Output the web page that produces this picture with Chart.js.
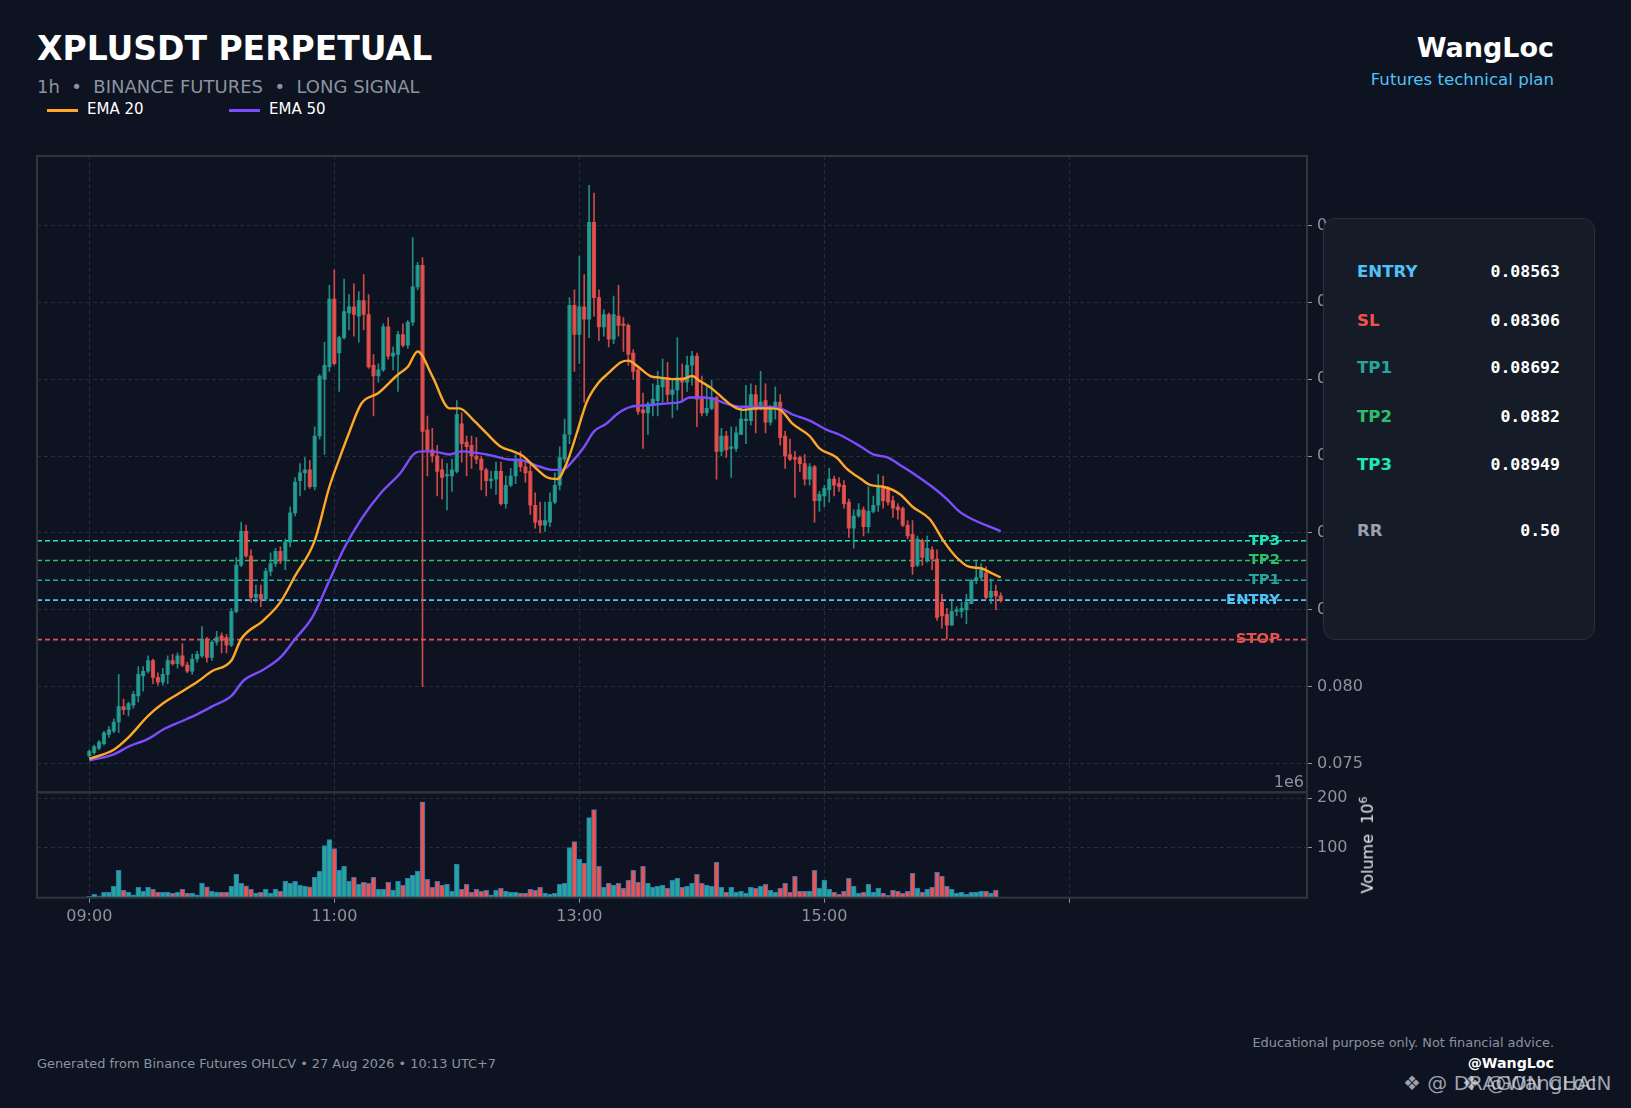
<!DOCTYPE html>
<html lang="en">
<head>
<meta charset="utf-8">
<title>XPLUSDT PERPETUAL - futures plan</title>
<script src="https://cdn.jsdelivr.net/npm/chart.js@4.4.1/dist/chart.umd.min.js"></script>
<style>
  html, body { margin: 0; padding: 0; }
  body {
    width: 1631px; height: 1108px; overflow: hidden; position: relative;
    background: #0d1320; font-family: 'DejaVu Sans', sans-serif;
  }
  .txt { position: absolute; line-height: 1; white-space: pre; }
  canvas { position: absolute; left: 0; }
  .legline { position: absolute; height: 3px; width: 31px; }
  #plan {
    position: absolute; left: 1323px; top: 218px; width: 272px; height: 422px;
    box-sizing: border-box; background: #151b27; border: 1px solid #283041;
    border-radius: 12px; z-index: 5;
  }
  #plan .lab { position: absolute; left: 33px; font-weight: bold; font-size: 16.6px; line-height: 1; }
  #plan .val {
    position: absolute; right: 34px; font-family: 'DejaVu Sans Mono', monospace;
    font-weight: bold; font-size: 16.5px; line-height: 1; color: #ffffff;
  }
  .mark { position: absolute; font-size: 20px; line-height: 1; color: rgba(215, 219, 225, 0.72); white-space: pre; z-index: 6; }
</style>
</head>
<body>

<div class="txt" style="left:37px;top:32px;font-size:33px;font-weight:bold;color:#ffffff">XPLUSDT PERPETUAL</div>
<div class="txt" style="left:37px;top:78px;font-size:18px;color:#8b93a1">1h  •  BINANCE FUTURES  •  LONG SIGNAL</div>
<div class="legline" style="left:47px;top:109px;background:#ffa726"></div>
<div class="txt" style="left:87px;top:102px;font-size:15px;color:#ffffff">EMA 20</div>
<div class="legline" style="left:229px;top:109px;background:#7c4dff"></div>
<div class="txt" style="left:269px;top:102px;font-size:15px;color:#ffffff">EMA 50</div>

<div class="txt" style="right:77px;top:34px;font-size:27px;font-weight:bold;color:#ffffff">WangLoc</div>
<div class="txt" style="right:77px;top:72px;font-size:16.6px;color:#4fc3f7">Futures technical plan</div>

<canvas id="priceChart" width="1631" height="676" style="top:136px"></canvas>
<canvas id="volumeChart" width="1631" height="176" style="top:772px"></canvas>

<div class="txt" style="right:327px;top:774px;font-size:16px;color:#8c929e">1e6</div>
<div class="txt" style="left:1367px;top:845px;font-size:16px;color:#e8eaee;transform:translate(-50%,-50%) rotate(-90deg)">Volume  10<sup style="font-size:11px">6</sup></div>

<div id="plan"></div>

<div class="txt" style="left:37px;top:1058px;font-size:12.9px;color:#8b93a1">Generated from Binance Futures OHLCV • 27 Aug 2026 • 10:13 UTC+7</div>
<div class="txt" style="right:77px;top:1037px;font-size:12.9px;color:#8b93a1">Educational purpose only. Not financial advice.</div>
<div class="txt" style="right:77px;top:1056px;font-size:14.2px;font-weight:bold;color:#ffffff">@WangLoc</div>
<div class="mark" style="left:1403px;top:1073px">❖ @ DRAGON CHAIN</div>
<div class="mark" style="left:1462px;top:1073px">❖ @WangLoc</div>

<script>
// --- candles (2.4 min bars, index 0 = 09:00) ---
const opens = [
  0.0755, 0.0757, 0.0760, 0.0763, 0.0769, 0.0771, 0.0777, 0.0787, 0.0785, 0.0788,
  0.0794, 0.0807, 0.0810, 0.0817, 0.0806, 0.0803, 0.0808, 0.0817, 0.0815, 0.0820,
  0.0814, 0.0810, 0.0818, 0.0820, 0.0831, 0.0819, 0.0829, 0.0833, 0.0832, 0.0827,
  0.0849, 0.0879, 0.0901, 0.0885, 0.0858, 0.0860, 0.0857, 0.0875, 0.0880, 0.0888,
  0.0882, 0.0894, 0.0913, 0.0934, 0.0939, 0.0941, 0.0930, 0.0963, 0.1000, 0.1008,
  0.1052, 0.1017, 0.1027, 0.1043, 0.1047, 0.1041, 0.1051, 0.1042, 0.1009, 0.1002,
  0.1006, 0.1034, 0.1015, 0.1016, 0.1029, 0.1022, 0.1037, 0.1060, 0.1074, 0.0967,
  0.0954, 0.0950, 0.0941, 0.0937, 0.0937, 0.0940, 0.0971, 0.0959, 0.0957, 0.0950,
  0.0948, 0.0941, 0.0934, 0.0935, 0.0940, 0.0919, 0.0931, 0.0937, 0.0948, 0.0943,
  0.0940, 0.0918, 0.0908, 0.0905, 0.0907, 0.0920, 0.0931, 0.0948, 0.0964, 0.1048,
  0.1029, 0.1047, 0.1039, 0.1102, 0.1053, 0.1034, 0.1042, 0.1026, 0.1041, 0.1036,
  0.1035, 0.1017, 0.1006, 0.0980, 0.0978, 0.0984, 0.0986, 0.0995, 0.1001, 0.0990,
  0.0993, 0.1001, 0.0998, 0.1009, 0.1015, 0.0987, 0.0978, 0.0981, 0.0988, 0.0953,
  0.0963, 0.0955, 0.0955, 0.0964, 0.0973, 0.0973, 0.0990, 0.0983, 0.0986, 0.0972,
  0.0982, 0.0985, 0.0963, 0.0951, 0.0949, 0.0949, 0.0945, 0.0935, 0.0943, 0.0921,
  0.0924, 0.0928, 0.0935, 0.0932, 0.0931, 0.0920, 0.0903, 0.0911, 0.0915, 0.0904,
  0.0914, 0.0918, 0.0930, 0.0929, 0.0921, 0.0917, 0.0916, 0.0905, 0.0899, 0.0879,
  0.0895, 0.0882, 0.0889, 0.0883, 0.0855, 0.0847, 0.0840, 0.0849, 0.0849, 0.0850,
  0.0854, 0.0869, 0.0871, 0.0874, 0.0858, 0.0862, 0.0859
];
const highs = [
  0.0759, 0.0762, 0.0765, 0.0771, 0.0774, 0.0779, 0.0808, 0.0792, 0.0790, 0.0797,
  0.0813, 0.0813, 0.0820, 0.0818, 0.0809, 0.0812, 0.0820, 0.0821, 0.0822, 0.0828,
  0.0816, 0.0821, 0.0823, 0.0839, 0.0832, 0.0830, 0.0836, 0.0835, 0.0834, 0.0851,
  0.0884, 0.0907, 0.0905, 0.0889, 0.0866, 0.0866, 0.0877, 0.0887, 0.0890, 0.0891,
  0.0896, 0.0917, 0.0936, 0.0945, 0.0949, 0.0947, 0.0969, 0.1003, 0.1024, 0.1061,
  0.1071, 0.1028, 0.1065, 0.1055, 0.1062, 0.1057, 0.1068, 0.1055, 0.1016, 0.1010,
  0.1036, 0.1040, 0.1021, 0.1031, 0.1036, 0.1038, 0.1092, 0.1076, 0.1079, 0.0976,
  0.0968, 0.0957, 0.0948, 0.0945, 0.0948, 0.0986, 0.0978, 0.0963, 0.0963, 0.0962,
  0.0950, 0.0942, 0.0940, 0.0946, 0.0946, 0.0937, 0.0942, 0.0951, 0.0953, 0.0947,
  0.0946, 0.0926, 0.0920, 0.0920, 0.0926, 0.0939, 0.0956, 0.0974, 0.1053, 0.1058,
  0.1080, 0.1068, 0.1126, 0.1121, 0.1058, 0.1045, 0.1043, 0.1054, 0.1061, 0.1040,
  0.1036, 0.1019, 0.1008, 0.0991, 0.0985, 0.0997, 0.1005, 0.1013, 0.1011, 0.1000,
  0.1027, 0.1010, 0.1015, 0.1018, 0.1017, 0.1002, 0.0996, 0.0999, 0.0989, 0.0968,
  0.0966, 0.0969, 0.0969, 0.0982, 0.0996, 0.0997, 0.0996, 0.1005, 0.0997, 0.0983,
  0.0995, 0.0990, 0.0966, 0.0961, 0.0953, 0.0950, 0.0951, 0.0945, 0.0944, 0.0927,
  0.0931, 0.0942, 0.0937, 0.0936, 0.0934, 0.0922, 0.0915, 0.0919, 0.0917, 0.0930,
  0.0924, 0.0938, 0.0937, 0.0930, 0.0924, 0.0919, 0.0917, 0.0908, 0.0908, 0.0898,
  0.0896, 0.0898, 0.0891, 0.0889, 0.0860, 0.0851, 0.0856, 0.0852, 0.0855, 0.0860,
  0.0870, 0.0882, 0.0880, 0.0878, 0.0870, 0.0866, 0.0861
];
const lows = [
  0.0754, 0.0756, 0.0759, 0.0762, 0.0767, 0.0770, 0.0770, 0.0782, 0.0781, 0.0786,
  0.0790, 0.0797, 0.0809, 0.0802, 0.0801, 0.0801, 0.0802, 0.0814, 0.0812, 0.0813,
  0.0809, 0.0808, 0.0816, 0.0819, 0.0816, 0.0817, 0.0827, 0.0822, 0.0822, 0.0826,
  0.0848, 0.0878, 0.0884, 0.0855, 0.0855, 0.0852, 0.0856, 0.0872, 0.0878, 0.0880,
  0.0876, 0.0891, 0.0911, 0.0924, 0.0928, 0.0929, 0.0928, 0.0961, 0.0951, 0.1005,
  0.1009, 0.0992, 0.1026, 0.1032, 0.1028, 0.1024, 0.1032, 0.1007, 0.0976, 0.0998,
  0.1005, 0.1013, 0.1006, 0.0992, 0.1021, 0.1020, 0.1035, 0.1058, 0.0800, 0.0937,
  0.0946, 0.0924, 0.0922, 0.0915, 0.0927, 0.0939, 0.0946, 0.0937, 0.0942, 0.0945,
  0.0928, 0.0924, 0.0929, 0.0925, 0.0918, 0.0916, 0.0930, 0.0932, 0.0940, 0.0933,
  0.0912, 0.0903, 0.0900, 0.0901, 0.0904, 0.0919, 0.0928, 0.0946, 0.0958, 0.1005,
  0.1010, 0.0985, 0.1027, 0.1041, 0.1025, 0.1028, 0.1021, 0.1023, 0.1028, 0.1018,
  0.1009, 0.1000, 0.0977, 0.0955, 0.0964, 0.0976, 0.0976, 0.0985, 0.0985, 0.0975,
  0.0980, 0.0985, 0.0992, 0.0996, 0.0969, 0.0976, 0.0976, 0.0980, 0.0935, 0.0950,
  0.0949, 0.0936, 0.0953, 0.0964, 0.0958, 0.0970, 0.0965, 0.0980, 0.0965, 0.0970,
  0.0974, 0.0957, 0.0942, 0.0947, 0.0923, 0.0940, 0.0931, 0.0931, 0.0907, 0.0914,
  0.0917, 0.0920, 0.0924, 0.0927, 0.0916, 0.0897, 0.0890, 0.0910, 0.0898, 0.0900,
  0.0913, 0.0914, 0.0916, 0.0918, 0.0910, 0.0909, 0.0904, 0.0896, 0.0873, 0.0878,
  0.0879, 0.0881, 0.0876, 0.0843, 0.0838, 0.0831, 0.0840, 0.0846, 0.0845, 0.0841,
  0.0854, 0.0867, 0.0869, 0.0857, 0.0854, 0.0850, 0.0855
];
const closes = [
  0.0758, 0.0761, 0.0764, 0.0770, 0.0772, 0.0777, 0.0787, 0.0785, 0.0789, 0.0795,
  0.0808, 0.0810, 0.0817, 0.0806, 0.0803, 0.0808, 0.0817, 0.0815, 0.0820, 0.0814,
  0.0810, 0.0818, 0.0821, 0.0831, 0.0819, 0.0829, 0.0832, 0.0830, 0.0827, 0.0849,
  0.0879, 0.0901, 0.0885, 0.0858, 0.0860, 0.0857, 0.0875, 0.0880, 0.0888, 0.0882,
  0.0894, 0.0913, 0.0933, 0.0939, 0.0941, 0.0930, 0.0963, 0.1002, 0.1009, 0.1052,
  0.1010, 0.1027, 0.1044, 0.1047, 0.1042, 0.1051, 0.1042, 0.1008, 0.1002, 0.1006,
  0.1034, 0.1015, 0.1017, 0.1029, 0.1022, 0.1037, 0.1060, 0.1074, 0.0966, 0.0954,
  0.0950, 0.0940, 0.0936, 0.0938, 0.0941, 0.0977, 0.0958, 0.0956, 0.0950, 0.0948,
  0.0941, 0.0934, 0.0935, 0.0940, 0.0919, 0.0931, 0.0937, 0.0948, 0.0943, 0.0939,
  0.0918, 0.0907, 0.0905, 0.0908, 0.0920, 0.0931, 0.0949, 0.0964, 0.1048, 0.1029,
  0.1047, 0.1039, 0.1102, 0.1053, 0.1034, 0.1042, 0.1026, 0.1042, 0.1035, 0.1035,
  0.1016, 0.1005, 0.0979, 0.0978, 0.0984, 0.0987, 0.0996, 0.1001, 0.0990, 0.0993,
  0.1001, 0.0998, 0.1009, 0.1015, 0.0987, 0.0978, 0.0981, 0.0988, 0.0953, 0.0963,
  0.0954, 0.0956, 0.0965, 0.0974, 0.0974, 0.0990, 0.0980, 0.0985, 0.0972, 0.0982,
  0.0985, 0.0962, 0.0950, 0.0948, 0.0948, 0.0945, 0.0935, 0.0943, 0.0921, 0.0925,
  0.0929, 0.0935, 0.0931, 0.0930, 0.0919, 0.0903, 0.0911, 0.0915, 0.0904, 0.0914,
  0.0918, 0.0930, 0.0921, 0.0920, 0.0916, 0.0915, 0.0905, 0.0898, 0.0878, 0.0896,
  0.0884, 0.0890, 0.0883, 0.0845, 0.0846, 0.0840, 0.0849, 0.0850, 0.0851, 0.0855,
  0.0869, 0.0871, 0.0876, 0.0858, 0.0862, 0.0859, 0.0856
];
// volume, millions
const volumes = [
  3, 7, 4, 11, 11, 23, 55, 15, 11, 6,
  21, 13, 21, 17, 11, 11, 11, 9, 11, 17,
  9, 9, 6, 29, 22, 13, 11, 11, 11, 23,
  47, 29, 24, 17, 9, 11, 17, 9, 17, 13,
  33, 29, 33, 25, 23, 22, 41, 53, 105, 117,
  99, 55, 63, 33, 41, 27, 31, 29, 41, 17,
  17, 31, 15, 33, 25, 39, 45, 53, 193, 37,
  21, 33, 25, 27, 13, 67, 17, 27, 11, 17,
  13, 15, 6, 15, 19, 13, 11, 11, 9, 9,
  17, 15, 21, 9, 7, 9, 27, 29, 101, 113,
  77, 69, 161, 177, 63, 21, 29, 25, 29, 19,
  35, 55, 31, 63, 29, 21, 23, 25, 19, 35,
  39, 21, 23, 29, 47, 29, 25, 23, 71, 21,
  11, 21, 11, 13, 9, 21, 19, 23, 27, 15,
  11, 19, 29, 11, 43, 13, 13, 13, 55, 19,
  35, 17, 11, 7, 13, 39, 23, 9, 11, 27,
  11, 19, 9, 5, 15, 13, 9, 13, 49, 19,
  11, 17, 21, 51, 43, 23, 17, 9, 11, 7,
  11, 11, 13, 13, 9, 15, 1
];

// EMA curves (bar index, price)
const ema20Idx = [0, 5, 8, 12, 15, 18.5, 22, 25, 29, 31, 35.5, 39, 42, 46, 49, 51, 53, 55.5, 59, 63,
  65, 67, 70, 73.5, 75.5, 78.5, 81, 84, 86.5, 88.5, 90.5, 93.5, 95.5, 97.5, 99.5, 101.5, 104, 106, 108.5, 110,
  112, 114.5, 116.5, 119, 121, 123, 124.5, 127, 129.5, 131.5, 133.5, 136, 139, 141, 143.5, 147, 149, 152.5, 154.5, 157.5,
  159.5, 162, 165.5, 168, 171.5, 174.5, 177, 179.5, 182, 184, 186];
const ema20 = [0.0753, 0.0759, 0.0767, 0.0781, 0.0789, 0.0796, 0.0803, 0.0810, 0.0817, 0.0831, 0.0843, 0.0855, 0.0872, 0.0895, 0.0930, 0.0948, 0.0965, 0.0984, 0.0991, 0.1003,
  0.1008, 0.1018, 0.1002, 0.0981, 0.0981, 0.0973, 0.0965, 0.0956, 0.0953, 0.0950, 0.0944, 0.0936, 0.0935, 0.0946, 0.0965, 0.0985, 0.0998, 0.1004, 0.1011, 0.1012,
  0.1008, 0.1002, 0.1001, 0.1000, 0.1000, 0.1002, 0.0999, 0.0994, 0.0987, 0.0982, 0.0980, 0.0981, 0.0981, 0.0980, 0.0971, 0.0963, 0.0955, 0.0949, 0.0942, 0.0935,
  0.0931, 0.0930, 0.0925, 0.0917, 0.0909, 0.0894, 0.0884, 0.0878, 0.0877, 0.0874, 0.0871];
const ema50Idx = [0, 5, 8, 12, 15, 18.5, 22, 25, 29, 31.5, 35.5, 39, 42, 45.5, 49, 52, 55.5, 59.5, 63.5, 66.5,
  68, 70, 73.5, 76, 79, 82.5, 85, 88.5, 92, 94.5, 96.5, 99, 101, 103, 105.5, 108, 110.5, 114, 117, 120.5,
  122.5, 125.5, 127.5, 130, 133, 137, 141, 143.5, 147, 150.5, 153, 157.5, 160, 163, 165.5, 168, 172, 175, 177.5, 179.5, 186];
const ema50 = [0.0752, 0.0756, 0.0761, 0.0766, 0.0772, 0.0777, 0.0782, 0.0787, 0.0794, 0.0804, 0.0811, 0.0819, 0.0831, 0.0845, 0.0869, 0.0890, 0.0909, 0.0926, 0.0939, 0.0952,
  0.0953, 0.0953, 0.0951, 0.0953, 0.0952, 0.0950, 0.0948, 0.0947, 0.0943, 0.0941, 0.0941, 0.0948, 0.0956, 0.0966, 0.0971, 0.0978, 0.0982, 0.0983, 0.0984, 0.0985,
  0.0988, 0.0988, 0.0987, 0.0984, 0.0982, 0.0982, 0.0981, 0.0977, 0.0973, 0.0967, 0.0964, 0.0956, 0.0951, 0.0949, 0.0944, 0.0939, 0.0930, 0.0922, 0.0914, 0.0910, 0.0901];

// plan levels
const levelNames = ['TP3', 'TP2', 'TP1', 'ENTRY', 'STOP'];
const levelValues = [0.08949, 0.0882, 0.08692, 0.08563, 0.08306];
const levelColors = ['#1de9b6', '#2fbf6a', '#26a69a', '#4fc3f7', '#e5534f'];

const planNames = ['ENTRY', 'SL', 'TP1', 'TP2', 'TP3', 'RR'];
const planValues = ['0.08563', '0.08306', '0.08692', '0.0882', '0.08949', '0.50'];
const planColors = ['#4fc3f7', '#ef5350', '#26a69a', '#2fbf6a', '#1de9b6', '#9aa1ad'];

// axes
const priceTicks = [0.075, 0.080, 0.085, 0.090, 0.095, 0.100, 0.105, 0.110];
const volumeTicks = [100, 200];
const timeTickIdx = [0, 50, 100, 150, 200];
const timeTickLabels = ['09:00', '11:00', '13:00', '15:00', ''];

const xMin = -10.67, xMax = 248.5;
const priceMin = 0.07313, priceMax = 0.11451;
const volMax = 212;

const gridColor = '#262d3a';
const labelColor = '#8c929e';
const frameColor = '#2f343e';
const upColor = 'rgba(38,166,154,0.82)';
const downColor = 'rgba(239,83,80,0.85)';

Chart.defaults.font.family = "'DejaVu Sans', sans-serif";
Chart.defaults.color = labelColor;

// --- plan panel ---
const plan = document.getElementById('plan');
const rowCentres = [52.5, 101.5, 149, 198, 246, 311.5];
planNames.forEach((name, k) => {
  const lab = document.createElement('div');
  lab.className = 'lab';
  lab.textContent = name;
  lab.style.color = planColors[k];
  lab.style.top = (rowCentres[k] - 7.9) + 'px';
  plan.appendChild(lab);
  const val = document.createElement('div');
  val.className = 'val';
  val.textContent = planValues[k];
  val.style.top = (rowCentres[k] - 7.9) + 'px';
  plan.appendChild(val);
});

// --- data for the library ---
const idx = closes.map((c, i) => i);
const isUp = idx.map(i => closes[i] >= opens[i]);
const candleColors = isUp.map(u => u ? upColor : downColor);

const frame = {
  id: 'frame',
  afterDraw(chart) {
    const { ctx, chartArea: a } = chart;
    ctx.save();
    ctx.strokeStyle = frameColor;
    ctx.lineWidth = 2;
    ctx.strokeRect(a.left, a.top, a.right - a.left, a.bottom - a.top);
    ctx.restore();
  }
};

const levels = {
  id: 'levels',
  beforeDatasetsDraw(chart) {
    const { ctx, chartArea: a, scales: { y } } = chart;
    ctx.save();
    ctx.setLineDash([5, 3]);
    ctx.lineWidth = 1.6;
    levelValues.forEach((v, k) => {
      const py = y.getPixelForValue(v);
      ctx.strokeStyle = levelColors[k];
      ctx.beginPath();
      ctx.moveTo(a.left, py);
      ctx.lineTo(a.right, py);
      ctx.stroke();
    });
    ctx.restore();
  },
  afterDatasetsDraw(chart) {
    const { ctx, scales: { y } } = chart;
    ctx.save();
    ctx.font = "bold 14.8px 'DejaVu Sans'";
    ctx.textAlign = 'right';
    ctx.textBaseline = 'middle';
    levelValues.forEach((v, k) => {
      ctx.fillStyle = levelColors[k];
      ctx.fillText(levelNames[k], 1280, y.getPixelForValue(v));
    });
    ctx.restore();
  }
};

function timeAxis(showLabels) {
  return {
    type: 'linear',
    min: xMin,
    max: xMax,
    offset: false,
    grid: { color: gridColor, offset: false, drawTicks: showLabels, tickLength: 5, tickColor: labelColor, tickBorderDash: [] },
    border: { display: false, dash: [4, 3] },
    ticks: {
      display: showLabels, autoSkip: false, maxRotation: 0, padding: 5,
      color: labelColor, font: { size: 16 },
      callback: (v, k) => timeTickLabels[k]
    },
    afterBuildTicks: s => { s.ticks = timeTickIdx.map(v => ({ value: v })); },
    afterFit: s => { s.height = showLabels ? 50.3 : 0; }
  };
}

// --- price panel ---
new Chart(document.getElementById('priceChart'), {
  type: 'bar',
  data: {
    datasets: [
      {
        type: 'line', label: 'EMA 20',
        data: ema20Idx.map((x, k) => ({ x: x, y: ema20[k] })),
        borderColor: '#ffa726', borderWidth: 2.4, pointRadius: 0,
        cubicInterpolationMode: 'monotone'
      },
      {
        type: 'line', label: 'EMA 50',
        data: ema50Idx.map((x, k) => ({ x: x, y: ema50[k] })),
        borderColor: '#7c4dff', borderWidth: 2.4, pointRadius: 0,
        cubicInterpolationMode: 'monotone'
      },
      {
        label: 'body',
        data: idx.map(i => ({ x: i, y: [opens[i], closes[i]] })),
        backgroundColor: candleColors,
        barThickness: 3.5, minBarLength: 1, grouped: false
      },
      {
        label: 'wick',
        data: idx.map(i => ({ x: i, y: [lows[i], highs[i]] })),
        backgroundColor: candleColors,
        barThickness: 1, grouped: false
      }
    ]
  },
  options: {
    responsive: false,
    animation: false,
    layout: { padding: { left: 37, top: 20, right: 0, bottom: 19.7 } },
    plugins: { legend: { display: false }, tooltip: { enabled: false } },
    scales: {
      x: timeAxis(false),
      y: {
        type: 'linear', position: 'right', min: priceMin, max: priceMax,
        grid: { color: gridColor, tickLength: 5, tickColor: labelColor, tickBorderDash: [] },
        border: { display: false, dash: [4, 3] },
        ticks: { color: labelColor, padding: 5, font: { size: 16 }, callback: v => v.toFixed(3) },
        afterBuildTicks: s => { s.ticks = priceTicks.map(v => ({ value: v })); },
        afterFit: s => { s.width = 324; }
      }
    }
  },
  plugins: [levels, frame]
});

// --- volume panel ---
new Chart(document.getElementById('volumeChart'), {
  type: 'bar',
  data: {
    datasets: [{
      label: 'Volume',
      data: idx.map(i => ({ x: i, y: volumes[i] })),
      backgroundColor: isUp.map(u => u ? '#26a69a' : '#ef5350'),
      borderColor: '#2a78b4',
      borderWidth: 1,
      borderSkipped: false,
      barThickness: 4.9,
      grouped: false
    }]
  },
  options: {
    responsive: false,
    animation: false,
    layout: { padding: { left: 37, top: 20.3, right: 0, bottom: 0 } },
    plugins: { legend: { display: false }, tooltip: { enabled: false } },
    scales: {
      x: timeAxis(true),
      y: {
        type: 'linear', position: 'right', min: 0, max: volMax,
        grid: { color: gridColor, tickLength: 5, tickColor: labelColor, tickBorderDash: [] },
        border: { display: false, dash: [4, 3] },
        ticks: { color: labelColor, padding: 5, font: { size: 16 }, callback: v => String(v) },
        afterBuildTicks: s => { s.ticks = volumeTicks.map(v => ({ value: v })); },
        afterFit: s => { s.width = 324; }
      }
    }
  },
  plugins: [frame]
});
</script>
</body>
</html>
